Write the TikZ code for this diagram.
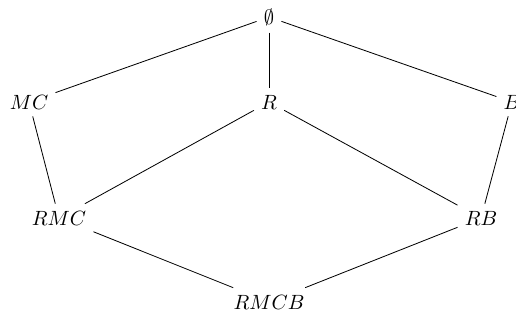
\documentclass[tikz,border=0pt]{standalone}
\begin{document}
\begin{tikzpicture}[x=0.01705cm,y=-0.01705cm]
                \useasboundingbox (0,0) rectangle (516,329);
                \path (269,17) node (E) {$\emptyset$};
                \path (29,102) node (MC) {$MC$};
                \path (269,102) node (R) {$R$};
                \path (512,102) node (B) {$B$};
                \path (59,218) node (RMC) {$RMC$};
                \path (481,218) node (RB) {$RB$};
                \path (269,302) node (RMCB) {$RMCB$};
                \draw (E) -- (MC);
                \draw (E) -- (R);
                \draw (E) -- (B);
                \draw (MC) -- (RMC);
                \draw (R) -- (RMC);
                \draw (R) -- (RB);
                \draw (B) -- (RB);
                \draw (RMC) -- (RMCB);
                \draw (RB) -- (RMCB);
              \end{tikzpicture}
\end{document}
